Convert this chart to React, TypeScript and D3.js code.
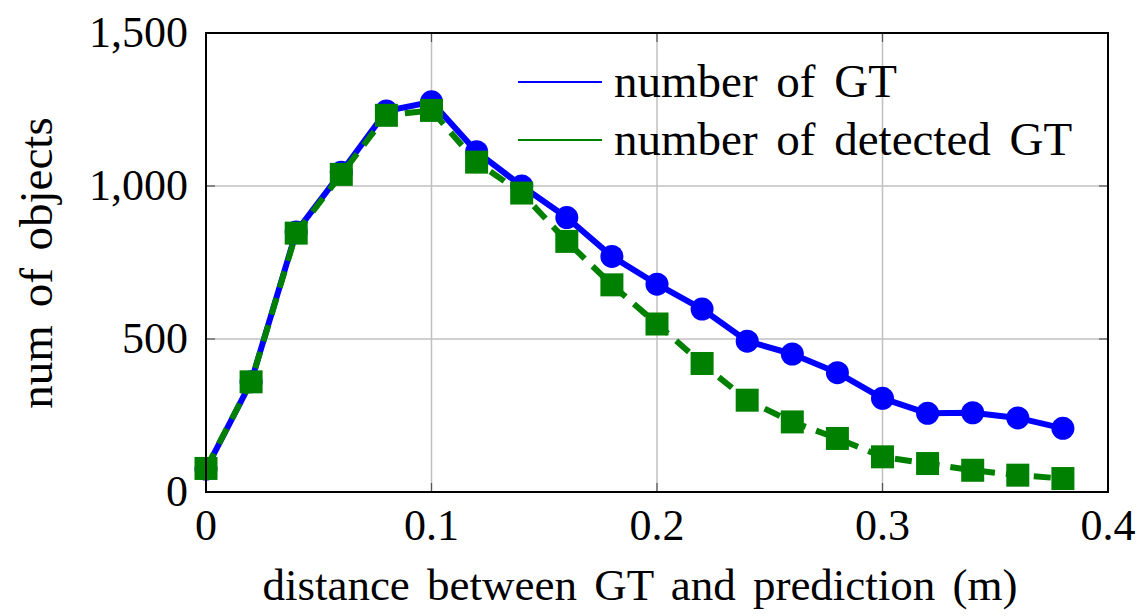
import React, { useEffect, useRef } from 'react';
import * as d3 from 'd3';

// distance bins (m)
const distances = [0, 0.02, 0.04, 0.06, 0.08, 0.1, 0.12, 0.14, 0.16, 0.18, 0.2, 0.22, 0.24, 0.26, 0.28, 0.3, 0.32, 0.34, 0.36, 0.38];
const numGT = [75, 360, 850, 1045, 1245, 1275, 1112, 1000, 897, 770, 679, 598, 493, 451, 390, 306, 257, 259, 242, 208];
const numDetected = [77, 360, 846, 1038, 1231, 1247, 1078, 977, 819, 677, 549, 420, 300, 229, 175, 115, 93, 71, 55, 44];

const xTicks = [0, 0.1, 0.2, 0.3, 0.4];
const yTicks = [0, 500, 1000, 1500];
const legendLabels = ['number of GT', 'number of detected GT'];
const seriesColors = ['#0000ff', '#008000'];

const W = 1143;
const H = 616;
const FONT = '"Liberation Serif", "Times New Roman", serif';

const App = () => {
  const rootRef = useRef<SVGSVGElement>(null);

  useEffect(() => {
    const svg = d3.select(rootRef.current).attr('width', W).attr('height', H);
    svg.selectAll('*').remove();

    const left = 206, right = 1108, top = 33, bottom = 492;
    const x = d3.scaleLinear().domain([0, 0.4]).range([left, right]);
    const y = d3.scaleLinear().domain([0, 1500]).range([bottom, top]);

    // grid
    const grid = svg.append('g');
    grid.selectAll('.vx')
      .data(xTicks.slice(1, -1))
      .enter()
      .append('line')
      .attr('x1', (d) => x(d)).attr('x2', (d) => x(d))
      .attr('y1', top).attr('y2', bottom)
      .attr('stroke', '#c0c0c0').attr('stroke-width', 1.5);
    grid.selectAll('.hy')
      .data(yTicks.slice(1, -1))
      .enter()
      .append('line')
      .attr('x1', left).attr('x2', right)
      .attr('y1', (d) => y(d)).attr('y2', (d) => y(d))
      .attr('stroke', '#c0c0c0').attr('stroke-width', 1.5);

    // small inner ticks (pgfplots style)
    const ticks = svg.append('g').attr('stroke', '#555').attr('stroke-width', 1.2);
    xTicks.slice(1, -1).forEach((t) => {
      ticks.append('line').attr('x1', x(t)).attr('x2', x(t)).attr('y1', bottom).attr('y2', bottom - 9);
      ticks.append('line').attr('x1', x(t)).attr('x2', x(t)).attr('y1', top).attr('y2', top + 9);
    });
    yTicks.slice(1, -1).forEach((t) => {
      ticks.append('line').attr('x1', left).attr('x2', left + 9).attr('y1', y(t)).attr('y2', y(t));
      ticks.append('line').attr('x1', right).attr('x2', right - 9).attr('y1', y(t)).attr('y2', y(t));
    });

    const line = d3.line<number>()
      .x((_, i) => x(distances[i]))
      .y((d) => y(d));

    // number of GT
    svg.append('path')
      .datum(numGT)
      .attr('d', line)
      .attr('fill', 'none')
      .attr('stroke', seriesColors[0])
      .attr('stroke-width', 6)
      .attr('stroke-linejoin', 'round');
    svg.selectAll('.gt')
      .data(numGT)
      .enter()
      .append('circle')
      .attr('cx', (_, i) => x(distances[i]))
      .attr('cy', (d) => y(d))
      .attr('r', 11.5)
      .attr('fill', seriesColors[0]);

    // number of detected GT
    svg.append('path')
      .datum(numDetected)
      .attr('d', line)
      .attr('fill', 'none')
      .attr('stroke', seriesColors[1])
      .attr('stroke-width', 6)
      .attr('stroke-dasharray', '17 11');
    const sq = 23;
    svg.selectAll('.det')
      .data(numDetected)
      .enter()
      .append('rect')
      .attr('x', (_, i) => x(distances[i]) - sq / 2)
      .attr('y', (d) => y(d) - sq / 2)
      .attr('width', sq)
      .attr('height', sq)
      .attr('fill', seriesColors[1]);

    // frame
    svg.append('rect')
      .attr('x', left).attr('y', top)
      .attr('width', right - left).attr('height', bottom - top)
      .attr('fill', 'none').attr('stroke', '#000').attr('stroke-width', 2);

    const fmt = d3.format(',');
    svg.append('g')
      .selectAll('text')
      .data(yTicks)
      .enter()
      .append('text')
      .attr('x', 188)
      .attr('y', (d) => y(d) + 14)
      .attr('text-anchor', 'end')
      .attr('font-family', FONT)
      .attr('font-size', 44)
      .text((d) => fmt(d));

    svg.append('g')
      .selectAll('text')
      .data(xTicks)
      .enter()
      .append('text')
      .attr('x', (d) => x(d))
      .attr('y', 540)
      .attr('text-anchor', 'middle')
      .attr('font-family', FONT)
      .attr('font-size', 44)
      .text((d) => String(d));

    svg.append('text')
      .attr('x', 640)
      .attr('y', 600)
      .attr('text-anchor', 'middle')
      .attr('font-family', FONT)
      .attr('font-size', 45)
      .attr('word-spacing', 6)
      .text('distance between GT and prediction (m)');

    svg.append('text')
      .attr('transform', 'translate(52,263) rotate(-90)')
      .attr('text-anchor', 'middle')
      .attr('font-family', FONT)
      .attr('font-size', 47)
      .attr('word-spacing', 6)
      .text('num of objects');

    // legend
    const legend = svg.append('g');
    legendLabels.forEach((label, i) => {
      const ly = 82 + i * 58;
      legend.append('line')
        .attr('x1', 518).attr('x2', 602)
        .attr('y1', ly).attr('y2', ly)
        .attr('stroke', seriesColors[i]).attr('stroke-width', 2);
      legend.append('text')
        .attr('x', 614)
        .attr('y', ly + 15)
        .attr('font-family', FONT)
        .attr('font-size', 47)
        .attr('word-spacing', 7)
        .text(label);
    });
  }, []);

  return <svg ref={rootRef} style={{ position: 'absolute', left: 0, top: 0 }}></svg>;
};

export default App;
